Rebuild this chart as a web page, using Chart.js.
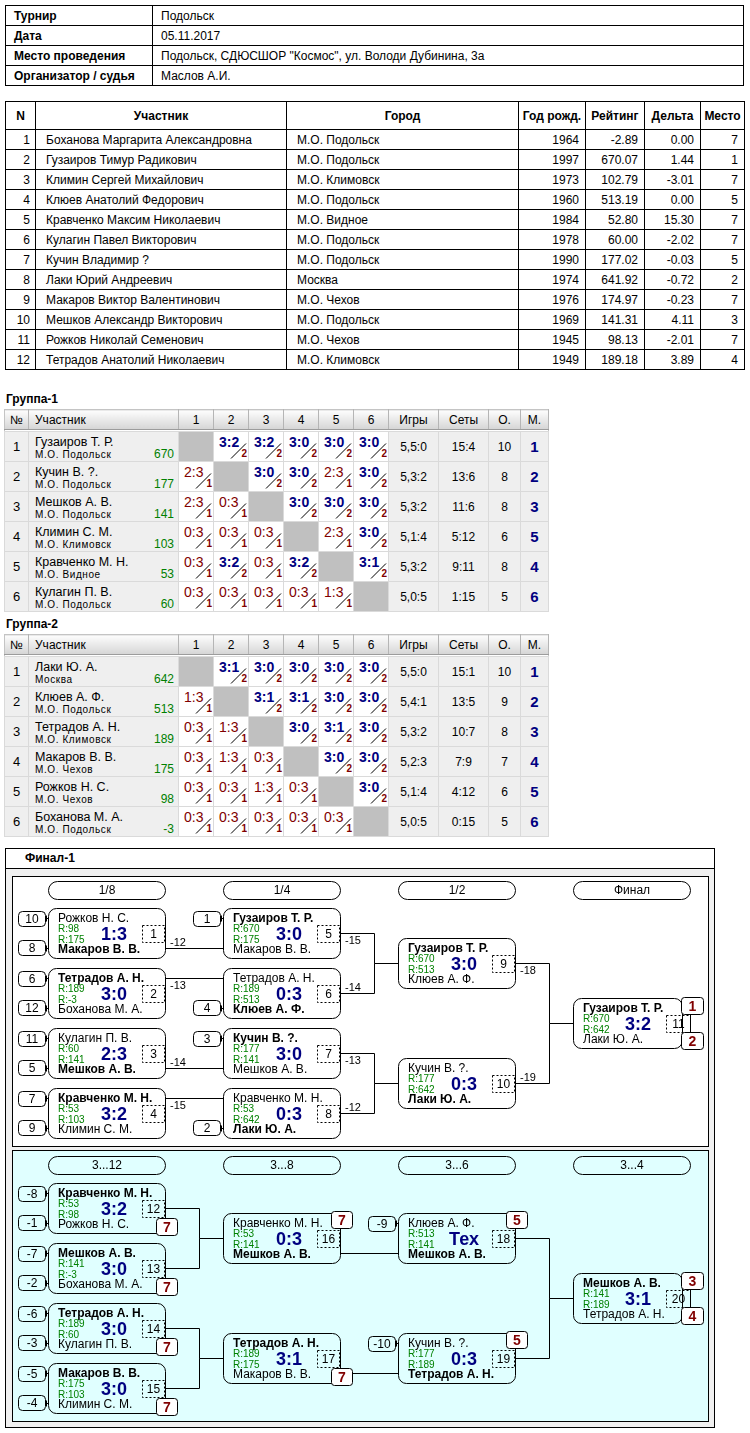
<!DOCTYPE html>
<html lang="ru">
<head>
<meta charset="UTF-8">
<title>Подольск 05.11.2017</title>
<style>
  body { margin: 0; width: 750px; height: 1433px; position: relative; background: #fff;
         font-family: Arial, "Liberation Sans", sans-serif; font-size: 12px; color: #000; }
  table { border-collapse: collapse; table-layout: fixed; }
  #info { position: absolute; left: 5px; top: 5px; width: 739px; }
  #info td { border: 1px solid #000; height: 19px; padding: 0 0 0 8px; white-space: nowrap; }
  #info td:first-child { font-weight: bold; }
  #players { position: absolute; left: 5px; top: 101px; width: 739px; }
  #players th, #players td { border: 1px solid #000; white-space: nowrap; overflow: hidden; }
  #players th { height: 27px; padding: 0; }
  #players td { height: 19px; padding: 0 6px 0 10px; }
  #players td.num { text-align: right; padding: 0 6px 0 0; }
  #players td.n { text-align: right; padding: 0 5px 0 0; }
  .gtitle { position: absolute; left: 6px; font-weight: bold; font-size: 12px; }
  .grp { position: absolute; left: 4px; width: 545px; border: 1px solid #c4c4c4; }
  .grp th { height: 19px; padding: 0; font-weight: normal; font-size: 12px;
            background: linear-gradient(#fdfdfd, #d5d5d5); border-right: 1px solid #b5b5b5;
            border-bottom: 1px solid #9c9c9c; }
  .grp th.l { text-align: left; padding-left: 6px; }
  .grp tr.gap td { height: 1px; padding: 0; background: #fff; border: none; }
  .grp td { height: 29px; padding: 0; background: #efefef; border: 1px solid #dadada;
            text-align: center; position: relative; font-size: 12px; }
  .grp td.idx { font-size: 13px; }
  .grp td.self { background: #c0c0c0; }
  .grp td.res { background: #fff; }
  .grp td.place { font-weight: bold; font-size: 15px; color: #000080; }
  .pn { position: absolute; left: 6px; top: 3px; font-size: 12.5px; line-height: 14px; white-space: nowrap; }
  .pc { position: absolute; left: 6px; top: 17px; font-size: 10px; line-height: 11px; letter-spacing: 0.6px; white-space: nowrap; }
  .pr { position: absolute; right: 4px; top: 16px; font-size: 12px; line-height: 12px; color: #008000; }
  .sc { position: absolute; left: 5px; top: 3px; font-size: 14px; line-height: 14px; }
  .sc.w { font-weight: bold; color: #000080; }
  .sc.l { color: #800000; }
  .pt { position: absolute; right: 1px; top: 17px; font-size: 10px; line-height: 10px; font-weight: bold; color: #800000; }
  .sl { position: absolute; left: 0; top: 0; }
  #fbox { position: absolute; left: 5px; top: 848px; width: 710px; height: 580px; box-sizing: border-box;
          border: 1px solid #000; background: #f0f0f0; }
  #fhead { position: absolute; left: 5px; top: 848px; width: 710px; height: 21px; box-sizing: border-box;
           border: 1px solid #000; background: #fff; font-weight: bold; line-height: 19px; padding-left: 19px; }
  .panel { position: absolute; left: 12px; width: 697px; box-sizing: border-box; border: 1px solid #000; }
  .panel canvas { position: absolute; left: 0; top: 0; }
</style>
</head>
<body>
<table id="info"><colgroup><col style="width:147px"><col></colgroup><tbody></tbody></table>

<table id="players">
  <colgroup>
    <col style="width:30px"><col style="width:251px"><col style="width:232px"><col style="width:67px">
    <col style="width:59px"><col style="width:56px"><col style="width:44px">
  </colgroup>
  <thead><tr><th>N</th><th>Участник</th><th>Город</th><th>Год рожд.</th><th>Рейтинг</th><th>Дельта</th><th>Место</th></tr></thead>
  <tbody></tbody>
</table>

<div class="gtitle" style="top:392px">Группа-1</div>
<table class="grp" id="g1" style="top:409px"></table>
<div class="gtitle" style="top:617px">Группа-2</div>
<table class="grp" id="g2" style="top:634px"></table>

<div id="fbox"></div>
<div id="fhead">Финал-1</div>
<div class="panel" style="top:876px;height:271px;background:#fff"><canvas id="mainDraw" width="695" height="269"></canvas></div>
<div class="panel" style="top:1150px;height:272px;background:#e0ffff"><canvas id="consDraw" width="695" height="270"></canvas></div>

<script src="https://cdn.jsdelivr.net/npm/chart.js"></script>
<script>
// --- турнир ---
const infoLabels = ['Турнир', 'Дата', 'Место проведения', 'Организатор / судья']
const infoValues = ['Подольск', '05.11.2017', 'Подольск, СДЮСШОР "Космос", ул. Володи Дубинина, 3а', 'Маслов А.И.']

// --- участники ---
const names = ['Боханова Маргарита Александровна', 'Гузаиров Тимур Радикович', 'Климин Сергей Михайлович',
  'Клюев Анатолий Федорович', 'Кравченко Максим Николаевич', 'Кулагин Павел Викторович', 'Кучин Владимир ?',
  'Лаки Юрий Андреевич', 'Макаров Виктор Валентинович', 'Мешков Александр Викторович',
  'Рожков Николай Семенович', 'Тетрадов Анатолий Николаевич']
const cities = ['М.О. Подольск', 'М.О. Подольск', 'М.О. Климовск', 'М.О. Подольск', 'М.О. Видное', 'М.О. Подольск',
  'М.О. Подольск', 'Москва', 'М.О. Чехов', 'М.О. Подольск', 'М.О. Чехов', 'М.О. Климовск']
const years = [1964, 1997, 1973, 1960, 1984, 1978, 1990, 1974, 1976, 1969, 1945, 1949]
const ratings = ['-2.89', '670.07', '102.79', '513.19', '52.80', '60.00', '177.02', '641.92', '174.97', '141.31', '98.13', '189.18']
const deltas = ['0.00', '1.44', '-3.01', '0.00', '15.30', '-2.02', '-0.03', '-0.72', '-0.23', '4.11', '-2.01', '3.89']
const places = [7, 1, 7, 5, 7, 7, 5, 2, 7, 3, 7, 4]

// --- группа 1 ---
const g1Names = ['Гузаиров Т. Р.', 'Кучин В. ?.', 'Мешков А. В.', 'Климин С. М.', 'Кравченко М. Н.', 'Кулагин П. В.']
const g1Cities = ['М.О. Подольск', 'М.О. Подольск', 'М.О. Подольск', 'М.О. Климовск', 'М.О. Видное', 'М.О. Подольск']
const g1Ratings = [670, 177, 141, 103, 53, 60]
const g1Scores = [
  ['', '3:2', '3:2', '3:0', '3:0', '3:0'],
  ['2:3', '', '3:0', '3:0', '2:3', '3:0'],
  ['2:3', '0:3', '', '3:0', '3:0', '3:0'],
  ['0:3', '0:3', '0:3', '', '2:3', '3:0'],
  ['0:3', '3:2', '0:3', '3:2', '', '3:1'],
  ['0:3', '0:3', '0:3', '0:3', '1:3', '']]
const g1Games = ['5,5:0', '5,3:2', '5,3:2', '5,1:4', '5,3:2', '5,0:5']
const g1Sets = ['15:4', '13:6', '11:6', '5:12', '9:11', '1:15']
const g1Points = [10, 8, 8, 6, 8, 5]
const g1Places = [1, 2, 3, 5, 4, 6]

// --- группа 2 ---
const g2Names = ['Лаки Ю. А.', 'Клюев А. Ф.', 'Тетрадов А. Н.', 'Макаров В. В.', 'Рожков Н. С.', 'Боханова М. А.']
const g2Cities = ['Москва', 'М.О. Подольск', 'М.О. Климовск', 'М.О. Чехов', 'М.О. Чехов', 'М.О. Подольск']
const g2Ratings = [642, 513, 189, 175, 98, -3]
const g2Scores = [
  ['', '3:1', '3:0', '3:0', '3:0', '3:0'],
  ['1:3', '', '3:1', '3:1', '3:0', '3:0'],
  ['0:3', '1:3', '', '3:0', '3:1', '3:0'],
  ['0:3', '1:3', '0:3', '', '3:0', '3:0'],
  ['0:3', '0:3', '1:3', '0:3', '', '3:0'],
  ['0:3', '0:3', '0:3', '0:3', '0:3', '']]
const g2Games = ['5,5:0', '5,4:1', '5,3:2', '5,2:3', '5,1:4', '5,0:5']
const g2Sets = ['15:1', '13:5', '10:7', '7:9', '4:12', '0:15']
const g2Points = [10, 9, 8, 7, 6, 5]
const g2Places = [1, 2, 3, 4, 5, 6]

// --- финал-1: сетка ---
const mainRounds = ['1/8', '1/4', '1/2', 'Финал']
// номер, раунд, строка, игрок 1, R1, игрок 2, R2, счет, победитель, следующая встреча
const mainMatches = [
  [1, 0, 0, 'Рожков Н. С.', 98, 'Макаров В. В.', 175, '1:3', 2, 5],
  [2, 0, 2, 'Тетрадов А. Н.', 189, 'Боханова М. А.', -3, '3:0', 1, 6],
  [3, 0, 4, 'Кулагин П. В.', 60, 'Мешков А. В.', 141, '2:3', 2, 7],
  [4, 0, 6, 'Кравченко М. Н.', 53, 'Климин С. М.', 103, '3:2', 1, 8],
  [5, 1, 0, 'Гузаиров Т. Р.', 670, 'Макаров В. В.', 175, '3:0', 1, 9],
  [6, 1, 2, 'Тетрадов А. Н.', 189, 'Клюев А. Ф.', 513, '0:3', 2, 9],
  [7, 1, 4, 'Кучин В. ?.', 177, 'Мешков А. В.', 141, '3:0', 1, 10],
  [8, 1, 6, 'Кравченко М. Н.', 53, 'Лаки Ю. А.', 642, '0:3', 2, 10],
  [9, 2, 1, 'Гузаиров Т. Р.', 670, 'Клюев А. Ф.', 513, '3:0', 1, 11],
  [10, 2, 5, 'Кучин В. ?.', 177, 'Лаки Ю. А.', 642, '0:3', 2, 11],
  [11, 3, 3, 'Гузаиров Т. Р.', 670, 'Лаки Ю. А.', 642, '3:2', 1, 0]]
const mainSeeds = [['10', '8'], ['6', '12'], ['11', '5'], ['7', '9'], ['1', ''], ['', '4'], ['3', ''], ['', '2'],
  ['', ''], ['', ''], ['', '']]
const mainLosers = ['-12', '-13', '-14', '-15', '-15', '-14', '-13', '-12', '-18', '-19', '']
const mainPlaces = [['', ''], ['', ''], ['', ''], ['', ''], ['', ''], ['', ''], ['', ''], ['', ''], ['', ''], ['', ''], ['1', '2']]

const consRounds = ['3...12', '3...8', '3...6', '3...4']
const consMatches = [
  [12, 0, 0, 'Кравченко М. Н.', 53, 'Рожков Н. С.', 98, '3:2', 1, 16],
  [13, 0, 2, 'Мешков А. В.', 141, 'Боханова М. А.', -3, '3:0', 1, 16],
  [14, 0, 4, 'Тетрадов А. Н.', 189, 'Кулагин П. В.', 60, '3:0', 1, 17],
  [15, 0, 6, 'Макаров В. В.', 175, 'Климин С. М.', 103, '3:0', 1, 17],
  [16, 1, 1, 'Кравченко М. Н.', 53, 'Мешков А. В.', 141, '0:3', 2, 18],
  [17, 1, 5, 'Тетрадов А. Н.', 189, 'Макаров В. В.', 175, '3:1', 1, 19],
  [18, 2, 1, 'Клюев А. Ф.', 513, 'Мешков А. В.', 141, 'Тех', 2, 20],
  [19, 2, 5, 'Кучин В. ?.', 177, 'Тетрадов А. Н.', 189, '0:3', 2, 20],
  [20, 3, 3, 'Мешков А. В.', 141, 'Тетрадов А. Н.', 189, '3:1', 1, 0]]
const consSeeds = [['-8', '-1'], ['-7', '-2'], ['-6', '-3'], ['-5', '-4'], ['', ''], ['', ''], ['-9', ''], ['-10', ''], ['', '']]
const consLosers = ['', '', '', '', '', '', '', '', '']
const consPlaces = [['', '7'], ['', '7'], ['', '7'], ['', '7'], ['7', ''], ['', '7'], ['5', ''], ['5', ''], ['3', '4']]

// ---------- таблицы ----------
let html = ''
infoLabels.forEach((l, i) => { html += `<tr><td>${l}</td><td>${infoValues[i]}</td></tr>` })
document.querySelector('#info tbody').innerHTML = html

html = ''
names.forEach((n, i) => {
  html += `<tr><td class="n">${i + 1}</td><td>${n}</td><td style="padding-left:10px">${cities[i]}</td>` +
    `<td class="num">${years[i]}</td><td class="num">${ratings[i]}</td><td class="num">${deltas[i]}</td>` +
    `<td class="num">${places[i]}</td></tr>`
})
document.querySelector('#players tbody').innerHTML = html

function buildGroup(id, gNames, gCities, gRatings, gScores, gGames, gSets, gPoints, gPlaces) {
  let h = '<colgroup><col style="width:24px"><col style="width:150px">' +
    '<col style="width:35px">'.repeat(6) +
    '<col style="width:50px"><col style="width:50px"><col style="width:32px"><col style="width:28px"></colgroup>'
  h += '<tr><th>№</th><th class="l">Участник</th>'
  for (let k = 1; k <= 6; k++) h += `<th>${k}</th>`
  h += '<th>Игры</th><th>Сеты</th><th>О.</th><th>М.</th></tr>'
  h += '<tr class="gap"><td colspan="12"></td></tr>'
  gNames.forEach((n, i) => {
    h += `<tr><td class="idx">${i + 1}</td><td style="text-align:left"><span class="pn">${n}</span>` +
      `<span class="pc">${gCities[i]}</span><span class="pr">${gRatings[i]}</span></td>`
    gScores[i].forEach(s => {
      if (!s) { h += '<td class="self"></td>'; return }
      const win = +s[0] > +s[2]
      h += `<td class="res"><span class="sc ${win ? 'w' : 'l'}">${s}</span>` +
        '<svg class="sl" width="35" height="29"><line x1="17" y1="26.5" x2="32" y2="11.5" stroke="#000" stroke-width="1"/></svg>' +
        `<span class="pt">${win ? 2 : 1}</span></td>`
    })
    h += `<td>${gGames[i]}</td><td>${gSets[i]}</td><td>${gPoints[i]}</td><td class="place">${gPlaces[i]}</td></tr>`
  })
  document.getElementById(id).innerHTML = h
}
buildGroup('g1', g1Names, g1Cities, g1Ratings, g1Scores, g1Games, g1Sets, g1Points, g1Places)
buildGroup('g2', g2Names, g2Cities, g2Ratings, g2Scores, g2Games, g2Sets, g2Points, g2Places)

// ---------- сетка через Chart.js ----------
const colStep = 175, rowStep = 30, firstX = 93.5

function rr(ctx, x, y, w, h, r) {
  ctx.beginPath()
  ctx.moveTo(x + r, y)
  ctx.arcTo(x + w, y, x + w, y + h, r)
  ctx.arcTo(x + w, y + h, x, y + h, r)
  ctx.arcTo(x, y + h, x, y, r)
  ctx.arcTo(x, y, x + w, y, r)
  ctx.closePath()
}

function seg(ctx, pts) {
  ctx.beginPath()
  pts.forEach((p, k) => k ? ctx.lineTo(p[0] + 0.5, p[1] + 0.5) : ctx.moveTo(p[0] + 0.5, p[1] + 0.5))
  ctx.stroke()
}

function txt(ctx, s, x, y, font, color, align) {
  ctx.font = font
  ctx.fillStyle = color || '#000'
  ctx.textAlign = align || 'left'
  ctx.fillText(s, x, y)
}

function paintBracket(chart, rounds, matches, seeds, losers, placesArr) {
  const ctx = chart.ctx, xs = chart.scales.x, ys = chart.scales.y
  const last = rounds.length - 1
  const geo = {}
  matches.forEach(m => {
    geo[m[0]] = {
      bx: Math.round(xs.getPixelForValue(m[1]) - 58.5),
      by: Math.round(ys.getPixelForValue(m[2]) - 25),
      w: m[1] === last ? 109 : 117
    }
  })
  ctx.save()
  ctx.lineWidth = 1
  ctx.strokeStyle = '#000'
  ctx.textBaseline = 'alphabetic'

  // заголовки раундов
  const top0 = Math.round(ys.getPixelForValue(0)) - 52
  rounds.forEach((r, i) => {
    const x = Math.round(xs.getPixelForValue(i) - 58.5)
    rr(ctx, x + 0.5, top0 + 0.5, 117, 18, 9)
    ctx.stroke()
    txt(ctx, r, x + 59, top0 + 13, '12px Arial', '#000', 'center')
  })

  // линии
  const feeds = {}
  matches.forEach(m => { if (m[9]) (feeds[m[9]] = feeds[m[9]] || []).push(m[0]) })
  matches.forEach((m, i) => {
    if (!m[9]) return
    const s = geo[m[0]], t = geo[m[9]]
    const right = s.bx + s.w, mid = s.by + 25
    let labelY
    if (feeds[m[9]].length === 2) {
      const vx = right + 34, tMid = t.by + 25
      seg(ctx, [[right, mid], [vx, mid], [vx, tMid], [t.bx, tMid]])
      labelY = mid < tMid ? mid + 11 : mid - 2
    } else {
      const ti = matches.findIndex(q => q[0] === m[9])
      const lineY = t.by + (seeds[ti][0] === '' ? 10 : 40)
      seg(ctx, [[right, lineY], [t.bx, lineY]])
      labelY = lineY > mid ? lineY - 2 : lineY + 11
    }
    if (losers[i]) txt(ctx, losers[i], right + 5, labelY, '11px Arial')
  })

  // встречи
  matches.forEach((m, i) => {
    const g = geo[m[0]], bx = g.bx, by = g.by, fin = m[1] === last
    ctx.setLineDash([])
    rr(ctx, bx + 0.5, by + 0.5, g.w, 50, 8)
    ctx.stroke()
    txt(ctx, m[3], bx + 10, by + 14, (m[8] === 1 ? 'bold ' : '') + '12px Arial')
    txt(ctx, m[5], bx + 10, by + 45, (m[8] === 2 ? 'bold ' : '') + '12px Arial')
    txt(ctx, 'R:' + m[4], bx + 10, by + 24, '10px Arial', '#008000')
    txt(ctx, 'R:' + m[6], bx + 10, by + 35, '10px Arial', '#008000')
    txt(ctx, m[7], bx + (fin ? 65 : 66), by + 32, 'bold 18px Arial', '#000080', 'center')
    ctx.setLineDash([2, 2])
    ctx.strokeRect(bx + (fin ? 93.5 : 94.5), by + 17.5, fin ? 24 : 22, 17)
    ctx.setLineDash([])
    txt(ctx, String(m[0]), bx + 105.5, by + 30, '12px Arial', '#000', 'center')

    // посев / откуда пришел
    seeds[i].forEach((sd, k) => {
      if (!sd) return
      const sy = by + (k ? 32 : 3), ly = by + (k ? 40 : 10)
      rr(ctx, bx - 30 + 0.5, sy + 0.5, 27, 15, 4)
      ctx.stroke()
      txt(ctx, sd, bx - 16, sy + 12, '12px Arial', '#000', 'center')
      seg(ctx, [[bx - 3, ly], [bx, ly]])
      seg(ctx, [[bx - 2, ly - 3], [bx - 2, ly + 3]])
    })

    // места
    if (fin) seg(ctx, [[bx + 117, by + 16], [bx + 117, by + 34]])
    placesArr[i].forEach((p, k) => {
      if (!p) return
      const py = fin ? (k ? by + 34 : by - 1) : (k ? by + 35 : by - 2)
      const pw = fin ? 22 : 21
      rr(ctx, bx + 108 + 0.5, py + 0.5, pw, 17, 3)
      ctx.fillStyle = '#fff'
      ctx.fill()
      ctx.stroke()
      txt(ctx, p, bx + 108.5 + pw / 2, py + 14, 'bold 14px Arial', '#800000', 'center')
    })
  })
  ctx.restore()
}

function drawPanel(id, rounds, matches, seeds, losers, placesArr, firstY) {
  const canvas = document.getElementById(id)
  const xMin = -firstX / colStep, yMin = -firstY / rowStep
  new Chart(canvas, {
    type: 'scatter',
    data: { datasets: [{ data: matches.map(m => ({ x: m[1], y: m[2] })), pointRadius: 0 }] },
    options: {
      responsive: false,
      animation: false,
      events: [],
      layout: { padding: 0 },
      plugins: { legend: { display: false }, tooltip: { enabled: false } },
      scales: {
        x: { type: 'linear', display: false, min: xMin, max: xMin + canvas.width / colStep },
        y: { type: 'linear', display: false, reverse: true, min: yMin, max: yMin + canvas.height / rowStep }
      }
    },
    plugins: [{ id: 'bracket', afterDraw: chart => paintBracket(chart, rounds, matches, seeds, losers, placesArr) }]
  })
}

drawPanel('mainDraw', mainRounds, mainMatches, mainSeeds, mainLosers, mainPlaces, 56)
drawPanel('consDraw', consRounds, consMatches, consSeeds, consLosers, consPlaces, 57)
</script>
</body>
</html>
